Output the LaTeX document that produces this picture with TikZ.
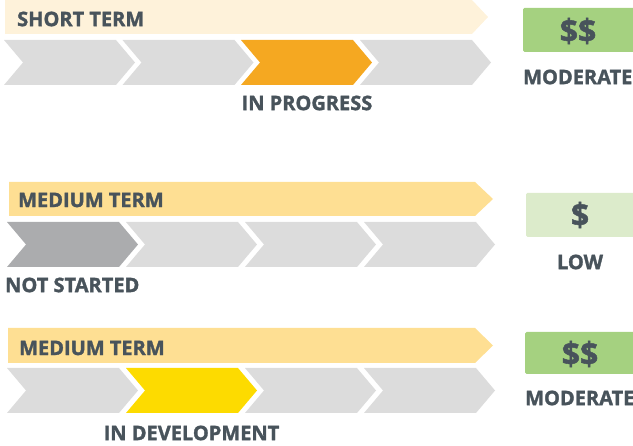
\documentclass[tikz,border=0pt]{standalone}
\usepackage{fontspec}
\setmainfont{Open Sans}[BoldFeatures={FakeBold=1.5}]
\definecolor{txt}{HTML}{48535B}
\definecolor{bannerA}{HTML}{FEF2DA}
\definecolor{bannerB}{HTML}{FEDF93}
\definecolor{chgrey}{HTML}{DCDCDC}
\definecolor{chdark}{HTML}{ABACAE}
\definecolor{chorange}{HTML}{F5A821}
\definecolor{chyellow}{HTML}{FDDB00}
\definecolor{moneyA}{HTML}{A5D180}
\definecolor{moneyB}{HTML}{DCEBCB}
\newcommand\chevron[3]{%
  \fill[#3] (#1,#2) -- ++(112,0) -- ++(19,22.5) -- ++(-19,22.5) -- ++(-112,0) -- ++(19,-22.5) -- cycle;}
\newcommand\banner[6]{% x0, xb, xtip, ytop, ybot, colour
  \fill[#6] (#1,#4) -- (#2,#4) -- (#3,{(#4+#5)/2}) -- (#2,#5) -- (#1,#5) -- cycle;}
\tikzset{
  lbl/.style={inner sep=0pt, text=txt, font=\fontsize{20}{20}\selectfont\bfseries},
  dollar/.style={inner sep=0pt, text=txt, font=\fontsize{32}{32}\selectfont\bfseries},
  moneybox/.style={rounded corners=1.5pt}
}
\begin{document}
\begin{tikzpicture}[x=1pt,y=-1pt]
\useasboundingbox (0,0) rectangle (633,446);
\clip (0,0) rectangle (633,446);
% ---------- row 1
\banner{5}{472}{488}{0}{34}{bannerA}
\node[lbl, anchor=west] (t1) at (17,19) {SHORT TERM};
\chevron{4}{40}{chgrey}
\chevron{122.5}{40}{chgrey}
\chevron{241}{40}{chorange}
\chevron{360}{40}{chgrey}
\node[lbl] (s1) at (307,103) {IN PROGRESS};
\fill[moneyA, moneybox] (523,8) rectangle (645,52);
\node[dollar] (d1) at (578,31) {\$\$};
\node[lbl, anchor=west] (m1) at (523,77) {MODERATE};
% ---------- row 2
\banner{9}{475}{493}{182}{216}{bannerB}
\node[lbl, anchor=west] (t2) at (18,200) {MEDIUM TERM};
\chevron{7}{222}{chdark}
\chevron{126}{222}{chgrey}
\chevron{245}{222}{chgrey}
\chevron{364}{222}{chgrey}
\node[lbl, anchor=west] (s2) at (5,285) {NOT STARTED};
\fill[moneyB, moneybox] (526,193) rectangle (645,237);
\node[dollar] (d2) at (580,215) {\$};
\node[lbl] (m2) at (580,262) {LOW};
% ---------- row 3
\banner{8}{475}{493}{328}{363}{bannerB}
\node[lbl, anchor=west] (t3) at (19,348) {MEDIUM TERM};
\chevron{7}{368}{chgrey}
\chevron{126}{368}{chyellow}
\chevron{245}{368}{chgrey}
\chevron{364}{368}{chgrey}
\node[lbl] (s3) at (191.5,433) {IN DEVELOPMENT};
\fill[moneyA, moneybox] (525,332) rectangle (645,374);
\node[dollar] (d3) at (580,354) {\$\$};
\node[lbl, anchor=west] (m3) at (525,398) {MODERATE};
\end{tikzpicture}
\end{document}
